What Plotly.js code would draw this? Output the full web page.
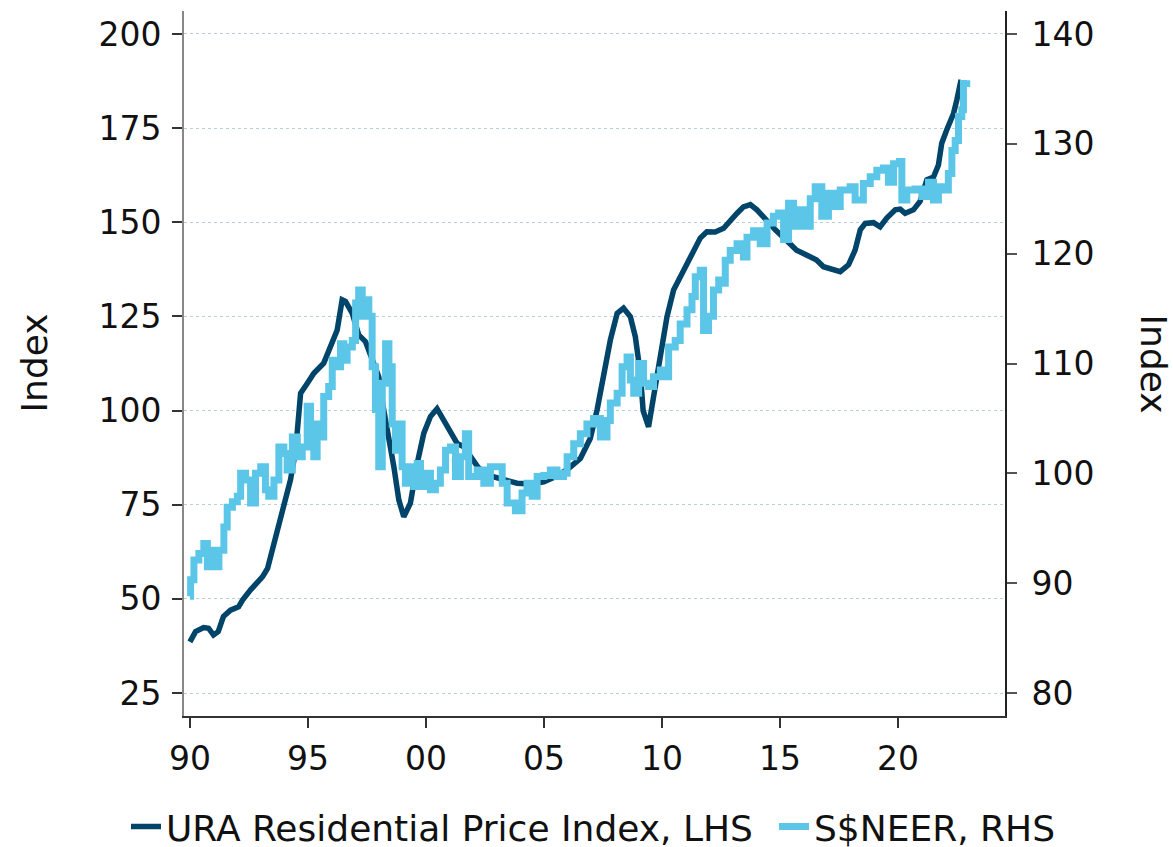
<!DOCTYPE html>
<html>
<head>
<meta charset="utf-8">
<script src="https://cdn.plot.ly/plotly-3.0.1.min.js"></script>
<style>html,body{margin:0;padding:0;background:#fff;}#chart{width:1173px;height:847px;}</style>
</head>
<body>
<div id="chart"></div>
<script>
// URA Residential Price Index (LHS)
const uraYears = [1990.00,1990.24,1990.58,1990.79,1991.00,1991.20,1991.42,1991.72,1992.06,1992.23,1992.57,1992.87,1993.08,1993.29,1993.42,1993.63,1993.84,1994.05,1994.26,1994.48,1994.69,1994.97,1995.25,1995.67,1995.88,1996.24,1996.45,1996.59,1996.88,1997.15,1997.44,1997.72,1998.00,1998.21,1998.43,1998.64,1998.85,1999.06,1999.34,1999.63,1999.91,2000.19,2000.47,2000.75,2001.04,2001.32,2001.60,2001.89,2002.20,2002.59,2003.29,2003.86,2004.42,2004.99,2005.50,2005.98,2006.54,2006.96,2007.25,2007.53,2007.81,2008.10,2008.37,2008.66,2008.87,2009.08,2009.20,2009.43,2009.64,2009.92,2010.21,2010.49,2010.84,2011.20,2011.62,2011.90,2012.25,2012.61,2012.89,2013.18,2013.45,2013.74,2014.02,2014.45,2014.80,2015.30,2015.70,2016.12,2016.55,2016.84,2017.26,2017.55,2017.90,2018.18,2018.40,2018.61,2018.96,2019.24,2019.52,2019.88,2020.09,2020.30,2020.65,2020.93,2021.22,2021.50,2021.71,2021.85,2022.06,2022.35,2022.49,2022.67];
const uraValues = [38.6,41.3,42.4,42.2,40.4,41.3,45.3,47.0,47.9,49.7,52.4,54.3,55.9,58.1,61.2,66.5,72.0,75.8,81.6,89.5,104.6,107.2,109.9,112.6,116.1,121.4,129.4,129.0,125.8,120.1,118.3,113.4,109.0,100.2,93.1,85.1,76.3,71.8,75.4,86.0,94.0,98.4,100.5,97.5,94.0,91.3,90.4,88.0,85.0,82.9,81.6,80.7,80.5,81.1,82.5,84.3,87.3,92.6,100.2,109.0,118.7,125.8,127.2,124.9,119.6,110.0,100.0,95.7,103.7,114.3,124.9,132.0,136.5,140.9,145.8,147.5,147.4,148.4,150.6,152.4,154.1,154.7,153.3,150.2,148.0,145.0,142.6,141.3,140.0,138.2,137.3,136.9,138.7,142.6,148.0,149.7,149.9,148.8,151.1,153.3,153.5,152.4,153.3,155.5,161.3,162.0,165.2,171.0,174.5,178.9,182.5,187.8];

// S$NEER (RHS)
const neerYears = [1990.00,1990.03,1990.17,1990.38,1990.59,1990.74,1990.95,1991.09,1991.23,1991.44,1991.58,1991.80,1992.01,1992.15,1992.36,1992.57,1992.78,1993.00,1993.20,1993.34,1993.56,1993.77,1993.98,1994.12,1994.34,1994.55,1994.76,1994.97,1995.11,1995.25,1995.39,1995.53,1995.67,1995.88,1996.03,1996.24,1996.38,1996.52,1996.66,1996.88,1997.02,1997.15,1997.30,1997.44,1997.58,1997.72,1997.86,1998.00,1998.15,1998.29,1998.43,1998.57,1998.71,1998.85,1998.99,1999.13,1999.27,1999.48,1999.63,1999.77,1999.98,2000.19,2000.40,2000.61,2000.83,2001.04,2001.25,2001.46,2001.67,2001.81,2002.17,2002.45,2002.73,2003.01,2003.23,2003.44,2003.79,2004.07,2004.28,2004.50,2004.71,2004.99,2005.27,2005.55,2005.83,2005.98,2006.26,2006.54,2006.82,2007.10,2007.39,2007.67,2007.81,2008.10,2008.31,2008.52,2008.66,2008.80,2009.01,2009.22,2009.43,2009.64,2009.93,2010.14,2010.28,2010.56,2010.77,2011.06,2011.27,2011.41,2011.62,2011.76,2011.97,2012.18,2012.40,2012.54,2012.68,2012.89,2013.18,2013.45,2013.60,2013.88,2014.16,2014.45,2014.72,2014.94,2015.15,2015.36,2015.57,2015.86,2016.07,2016.28,2016.49,2016.77,2017.05,2017.26,2017.55,2017.97,2018.18,2018.53,2018.82,2019.10,2019.38,2019.59,2019.81,2020.06,2020.16,2020.37,2020.72,2021.01,2021.29,2021.50,2021.71,2021.92,2022.13,2022.28,2022.42,2022.56,2022.70,2022.77,2022.91];
const neerValues = [88.8,90.3,92.1,92.7,93.6,91.5,93.0,91.5,93.0,95.1,96.9,97.4,97.9,100.0,99.4,97.3,100.0,100.6,98.5,97.9,99.4,102.4,101.8,100.3,103.3,101.5,102.4,106.1,104.5,101.5,104.5,103.3,107.0,107.9,110.3,109.7,111.8,110.3,111.5,112.1,115.5,116.7,114.3,115.8,114.3,109.7,105.8,100.6,108.2,111.8,109.7,104.5,102.1,104.5,100.6,99.1,100.6,98.8,100.9,98.8,100.0,98.5,99.1,100.3,102.1,102.4,99.7,101.5,103.6,99.7,100.3,99.1,100.6,100.6,99.1,97.3,96.6,98.2,99.1,97.9,99.7,99.8,100.3,99.7,100.0,101.5,102.7,103.6,104.5,105.0,103.3,104.8,106.4,107.3,109.7,110.6,108.5,107.3,110.0,108.2,107.9,108.8,109.4,108.8,111.5,112.1,113.6,114.9,116.1,117.9,118.5,113.0,114.3,116.7,117.6,117.3,119.4,120.3,120.9,119.7,121.5,122.1,120.9,122.8,123.4,123.7,121.3,124.6,122.5,124.0,122.5,125.0,126.1,123.4,125.5,124.3,125.8,126.1,124.9,126.4,127.0,127.6,127.8,126.5,128.2,128.4,124.9,125.8,125.9,125.2,126.5,124.9,126.1,125.8,127.3,129.4,130.3,132.5,133.1,135.5,135.8];

const xTickVals = [1990,1995,2000,2005,2010,2015,2020];
const xTickText = ["90","95","00","05","10","15","20"];
const yLeftTicks = [25,50,75,100,125,150,175,200];
const yRightTicks = [80,90,100,110,120,130,140];

const FONT = "DejaVu Sans, Verdana, sans-serif";
const legendFont = {size: 36, family: FONT, color: '#111'};

const traces = [
  {
    x: neerYears, y: neerValues, yaxis: 'y2', type: 'scatter', mode: 'lines', legend: 'legend2',
    name: 'S$NEER, RHS', line: {color: '#5bc6e8', width: 7, shape: 'hv'}
  },
  {
    x: uraYears, y: uraValues, yaxis: 'y', type: 'scatter', mode: 'lines', legend: 'legend',
    name: 'URA Residential Price Index, LHS', line: {color: '#00446a', width: 5.5}
  }
];

const layout = {
  width: 1173, height: 847,
  margin: {l: 184, r: 168, t: 11, b: 131},
  paper_bgcolor: '#ffffff', plot_bgcolor: '#ffffff',
  font: {family: FONT, color: '#111', size: 33},
  showlegend: true,
  legend: {orientation: 'h', xref: 'container', yref: 'container', x: 126/1173, xanchor: 'left',
           y: 0.024, yanchor: 'middle', font: legendFont, itemwidth: 30, bgcolor: 'rgba(0,0,0,0)'},
  legend2: {orientation: 'h', xref: 'container', yref: 'container', x: 774/1173, xanchor: 'left',
           y: 0.024, yanchor: 'middle', font: legendFont, itemwidth: 30, bgcolor: 'rgba(0,0,0,0)'},
  xaxis: {
    range: [1989.75, 2024.53], tickmode: 'array', tickvals: xTickVals, ticktext: xTickText,
    ticks: 'outside', ticklen: 10, tickwidth: 2, tickcolor: '#333',
    showline: true, linecolor: '#333', linewidth: 2, showgrid: false, zeroline: false,
    tickfont: {size: 33, family: FONT}, ticklabelstandoff: 2
  },
  yaxis: {
    range: [18.9, 206.1], tickmode: 'array', tickvals: yLeftTicks,
    ticks: 'outside', ticklen: 10, tickwidth: 2, tickcolor: '#333',
    showline: true, linecolor: '#888', linewidth: 2,
    showgrid: true, gridcolor: '#b9cfd9', gridwidth: 1, griddash: 'dot', zeroline: false,
    tickfont: {size: 33, family: FONT}, ticklabelstandoff: 4
  },
  yaxis2: {
    overlaying: 'y', side: 'right', range: [77.9, 142.1], tickmode: 'array', tickvals: yRightTicks,
    ticks: 'outside', ticklen: 10, tickwidth: 2, tickcolor: '#555',
    showline: true, linecolor: '#222', linewidth: 2, showgrid: false, zeroline: false,
    tickfont: {size: 33, family: FONT}, ticklabelstandoff: 8
  },
  annotations: [
    {text: 'Index', xref: 'paper', yref: 'paper', x: 0, y: 0.5, xanchor: 'center', yanchor: 'middle',
     xshift: -150, showarrow: false, textangle: -90, font: {size: 36, family: FONT, color: '#111'}},
    {text: 'Index', xref: 'paper', yref: 'paper', x: 1, y: 0.5, xanchor: 'center', yanchor: 'middle',
     xshift: 148, showarrow: false, textangle: 90, font: {size: 36, family: FONT, color: '#111'}}
  ]
};

Plotly.newPlot('chart', traces, layout, {displayModeBar: false, staticPlot: true});
</script>
</body>
</html>
